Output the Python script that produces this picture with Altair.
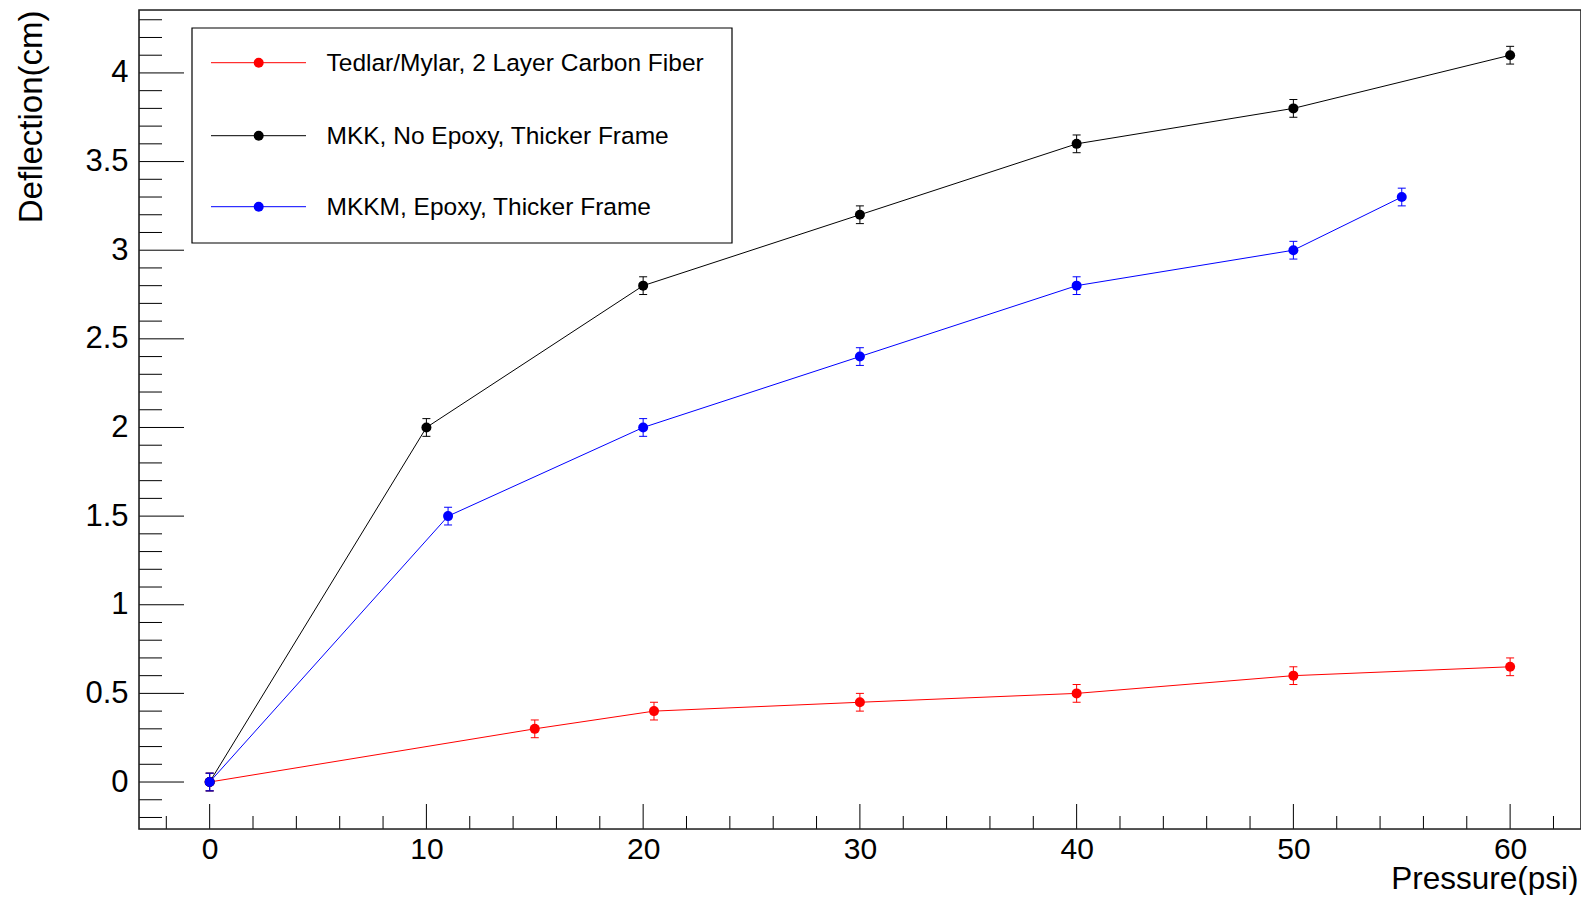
import altair as alt
import pandas as pd

# ---------------- data ----------------
series = ["Tedlar/Mylar, 2 Layer Carbon Fiber",
          "MKK, No Epoxy, Thicker Frame",
          "MKKM, Epoxy, Thicker Frame"]
colors = ["#ff0000", "#000000", "#0000ff"]

tedlar_p = [0, 15, 20.5, 30, 40, 50, 60]
tedlar_d = [0, 0.30, 0.40, 0.45, 0.50, 0.60, 0.65]
tedlar_e = [0.05, 0.05, 0.05, 0.05, 0.05, 0.05, 0.05]

mkk_p = [0, 10, 20, 30, 40, 50, 60]
mkk_d = [0, 2.0, 2.8, 3.2, 3.6, 3.8, 4.1]
mkk_e = [0.05, 0.05, 0.05, 0.05, 0.05, 0.05, 0.05]

mkkm_p = [0, 11, 20, 30, 40, 50, 55]
mkkm_d = [0, 1.5, 2.0, 2.4, 2.8, 3.0, 3.3]
mkkm_e = [0.05, 0.05, 0.05, 0.05, 0.05, 0.05, 0.05]

x_major = [0, 10, 20, 30, 40, 50, 60]
x_minor = [-2, 2, 4, 6, 8, 12, 14, 16, 18, 22, 24, 26, 28, 32, 34, 36, 38,
           42, 44, 46, 48, 52, 54, 56, 58, 62]
y_major = [0, 0.5, 1, 1.5, 2, 2.5, 3, 3.5, 4]
y_minor = [-0.2, -0.1, 0.1, 0.2, 0.3, 0.4, 0.6, 0.7, 0.8, 0.9, 1.1, 1.2, 1.3,
           1.4, 1.6, 1.7, 1.8, 1.9, 2.1, 2.2, 2.3, 2.4, 2.6, 2.7, 2.8, 2.9,
           3.1, 3.2, 3.3, 3.4, 3.6, 3.7, 3.8, 3.9, 4.1, 4.2, 4.3]

# ---------------- tables ----------------
rows = []
for name, ps, ds, es in [(series[0], tedlar_p, tedlar_d, tedlar_e),
                         (series[1], mkk_p, mkk_d, mkk_e),
                         (series[2], mkkm_p, mkkm_d, mkkm_e)]:
    for p, d, e in zip(ps, ds, es):
        rows.append({"series": name, "p": p, "d": d, "lo": d - e, "hi": d + e})
df = pd.DataFrame(rows)
df["sidx"] = df["series"].map({s: i for i, s in enumerate(series)})

W, H = 1442, 819
FONT = "Liberation Sans"

xscale = alt.Scale(domain=[-3.26, 63.27], nice=False, zero=False)
yscale = alt.Scale(domain=[-0.265, 4.355], nice=False, zero=False)
xaxis = alt.Axis(values=x_major, title="Pressure(psi)", ticks=False, tickSize=0,
                 domain=False, grid=False, labelFontSize=30, labelFont=FONT,
                 labelColor="#000", labelPadding=5, labelBaseline="top",
                 titleFont=FONT, titleFontSize=31.5, titleFontWeight="normal",
                 titleColor="#000", titleAnchor="end", titleAlign="right",
                 titleX=W - 3, titleY=59, titleBaseline="alphabetic")
yaxis = alt.Axis(values=y_major, title="Deflection(cm)", ticks=False, tickSize=0,
                 domain=False, grid=False, labelFontSize=31, labelFont=FONT,
                 labelColor="#000", labelPadding=11, format="~g",
                 titleFont=FONT, titleFontSize=33, titleFontWeight="normal",
                 titleColor="#000", titleAngle=270, titleAlign="right",
                 titleBaseline="alphabetic", titleX=-98, titleY=0)


def X(f):
    return alt.X(f, type="quantitative", scale=xscale, axis=xaxis)


def Y(f):
    return alt.Y(f, type="quantitative", scale=yscale, axis=yaxis)


color = alt.Color("series:N", scale=alt.Scale(domain=series, range=colors), legend=None)

base = alt.Chart(df)
lines = base.mark_line(strokeWidth=1).encode(x=X("p"), y=Y("d"), color=color,
                                               detail="series:N")
errs = base.mark_rule(strokeWidth=1).encode(x=X("p"), y=Y("lo"), y2="hi", color=color)
cap_lo = base.mark_rule(strokeWidth=1, xOffset=-4, x2Offset=4).encode(
    x=X("p"), x2="p", y=Y("lo"), color=color)
cap_hi = base.mark_rule(strokeWidth=1, xOffset=-4, x2Offset=4).encode(
    x=X("p"), x2="p", y=Y("hi"), color=color)
pts = base.mark_circle(size=100, opacity=1).encode(x=X("p"), y=Y("d"), color=color,
                                                    order=alt.Order("sidx:Q"))

# inward ticks (ROOT style)
ymaj = alt.Chart(pd.DataFrame({"v": y_major})).mark_rule(color="#000", strokeWidth=1).encode(
    y=Y("v"), x=alt.value(0), x2=alt.value(45))
ymin = alt.Chart(pd.DataFrame({"v": y_minor})).mark_rule(color="#000", strokeWidth=1).encode(
    y=Y("v"), x=alt.value(0), x2=alt.value(23))
xmaj = alt.Chart(pd.DataFrame({"v": x_major})).mark_rule(color="#000", strokeWidth=1).encode(
    x=X("v"), y=alt.value(H), y2=alt.value(H - 25))
xmin = alt.Chart(pd.DataFrame({"v": x_minor})).mark_rule(color="#000", strokeWidth=1).encode(
    x=X("v"), y=alt.value(H), y2=alt.value(H - 13))

# frame
leg_df = pd.DataFrame({"series": series})
frame = alt.Chart(leg_df.head(1)).mark_rect(fillOpacity=0, stroke="#222",
                                              strokeWidth=1.6).encode(
    x=alt.value(0), x2=alt.value(W), y=alt.value(0), y2=alt.value(H))

# legend box
legend_box = alt.Chart(leg_df.head(1)).mark_rect(fill="white", stroke="#000",
                                                   strokeWidth=1.2).encode(
    x=alt.value(53), x2=alt.value(593), y=alt.value(18), y2=alt.value(233))
legend_layers = [legend_box]
ly = [52.7, 125.7, 196.7]
for i, s in enumerate(series):
    d1 = pd.DataFrame({"series": [s]})
    legend_layers.append(alt.Chart(d1).mark_rule(strokeWidth=1, color=colors[i]).encode(
        x=alt.value(72), x2=alt.value(167), y=alt.value(ly[i])))
    legend_layers.append(alt.Chart(d1).mark_circle(size=100, opacity=1, color=colors[i]).encode(
        x=alt.value(119.7), y=alt.value(ly[i])))
    legend_layers.append(alt.Chart(d1).mark_text(font=FONT, fontSize=24.5, align="left",
                                                 baseline="middle", color="#000").encode(
        x=alt.value(187.5), y=alt.value(ly[i] + 1), text="series:N"))

chart = alt.layer(ymin, ymaj, xmin, xmaj, lines, errs, cap_lo, cap_hi, pts,
                  *legend_layers, frame).properties(
    width=W, height=H,
    autosize=alt.AutoSizeParams(type="none"),
    padding={"left": 131, "top": 2, "right": 0, "bottom": 66},
).configure_view(strokeWidth=0).configure(background="white")

chart.save("out.html", embed_options={"renderer": "svg", "actions": False})
